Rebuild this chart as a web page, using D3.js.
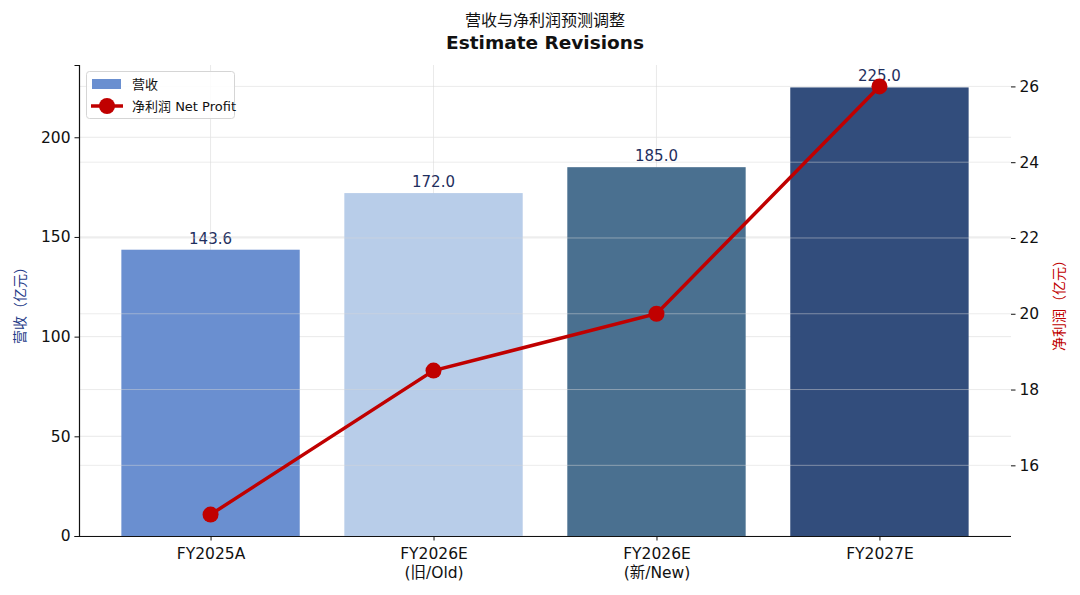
<!DOCTYPE html>
<html><head><meta charset="utf-8">
<script src="https://cdn.jsdelivr.net/npm/d3@7"></script>
<style>body{margin:0;background:#fff}svg{font-family:"DejaVu Sans","Noto Sans CJK SC",sans-serif}</style>
</head><body><svg id="c" width="1080" height="595"></svg>
<script>
const categories = ["FY2025A", "FY2026E\n(旧/Old)", "FY2026E\n(新/New)", "FY2027E"];
const revenue = [143.6, 172.0, 185.0, 225.0];
const netProfit = [14.7, 18.5, 20.0, 26.0];
const barColors = ["#6a8fd0", "#b8cde9", "#4a7090", "#324d7c"];
const leftTicks = [0, 50, 100, 150, 200];
const rightTicks = [16, 18, 20, 22, 24, 26];
const titleLines = ["营收与净利润预测调整", "Estimate Revisions"];
const leftLabel = "营收（亿元）";
const rightLabel = "净利润（亿元）";
const legendLabels = ["营收", "净利润 Net Profit"];

const svg = d3.select("#c");
const L = 79, R = 1011, T = 65, B = 536;
const x = d3.scaleLinear().domain([-0.59, 3.59]).range([L, R]);
const bw = x(0.4) - x(-0.4);
const yL = d3.scaleLinear().domain([0, 236.25]).range([B, T]);
const pMin = d3.min(netProfit), pMax = d3.max(netProfit), pad = (pMax - pMin) * 0.05;
const yR = d3.scaleLinear().domain([pMin - pad, pMax + pad]).range([B, T]);

// grids (left, behind)
const g = svg.append("g");
g.selectAll(".vg").data(categories).join("line")
  .attr("x1", (d, i) => x(i)).attr("x2", (d, i) => x(i)).attr("y1", T).attr("y2", B)
  .attr("stroke", "#e3e3e3").attr("stroke-width", 0.8);
g.selectAll(".hg").data(leftTicks).join("line")
  .attr("x1", L).attr("x2", R).attr("y1", d => yL(d)).attr("y2", d => yL(d))
  .attr("stroke", "#e3e3e3").attr("stroke-width", 0.8);

// bars
svg.selectAll(".bar").data(revenue).join("rect")
  .attr("x", (d, i) => x(i) - bw / 2).attr("width", bw)
  .attr("y", d => yL(d)).attr("height", d => B - yL(d))
  .attr("fill", (d, i) => barColors[i]);

// bar labels
svg.selectAll(".bl").data(revenue).join("text")
  .attr("x", (d, i) => x(i)).attr("y", d => yL(d) - 6)
  .attr("text-anchor", "middle").attr("font-size", 15).attr("fill", "#1f2f5e")
  .text(d => d.toFixed(1));

// right grid (on top, faint)
svg.selectAll(".rg").data(rightTicks).join("line")
  .attr("x1", L).attr("x2", R).attr("y1", d => yR(d)).attr("y2", d => yR(d))
  .attr("stroke", "#d8d8d8").attr("stroke-opacity", 0.6).attr("stroke-width", 0.8);

// axes
const axL = svg.append("g").attr("transform", `translate(${L},0)`)
  .call(d3.axisLeft(yL).tickValues(leftTicks).tickSize(4.5).tickPadding(4));
const axR = svg.append("g").attr("transform", `translate(${R},0)`)
  .call(d3.axisRight(yR).tickValues(rightTicks).tickSize(4.5).tickPadding(4));
axR.select(".domain").remove();
const axB = svg.append("g").attr("transform", `translate(0,${B})`)
  .call(d3.axisBottom(x).tickValues(d3.range(categories.length)).tickSize(4.5).tickFormat(() => ""));
axB.select(".domain").attr("d", `M${L},0.5H${R}`);
[axL, axR, axB].forEach(a => {
  a.selectAll("text").attr("font-size", 15.5).attr("fill", "#111").attr("font-family", "DejaVu Sans");
  a.selectAll("line").attr("stroke", "#111").attr("stroke-width", 1);
  a.select(".domain").attr("stroke", "#111").attr("stroke-width", 1.2);
});
axB.selectAll(".tick").each(function(d) {
  const lines = categories[d].split("\n");
  const t = d3.select(this).append("text").attr("text-anchor", "middle")
    .attr("font-size", 15.5).attr("fill", "#111").attr("font-family", "DejaVu Sans,Noto Sans CJK SC");
  lines.forEach((s, i) => t.append("tspan").attr("x", 0).attr("y", 23 + i * 19).text(s));
});

// line
const line = d3.line().x((d, i) => x(i)).y(d => yR(d));
svg.append("path").datum(netProfit).attr("d", line)
  .attr("fill", "none").attr("stroke", "#c00000").attr("stroke-width", 3.5);
svg.selectAll(".pt").data(netProfit).join("circle")
  .attr("cx", (d, i) => x(i)).attr("cy", d => yR(d)).attr("r", 8).attr("fill", "#c00000");

// titles
svg.append("text").attr("x", 545).attr("y", 26).attr("text-anchor", "middle")
  .attr("font-size", 16).attr("fill", "#111").attr("font-family", "Noto Sans CJK SC").text(titleLines[0]);
svg.append("text").attr("x", 545).attr("y", 49).attr("text-anchor", "middle")
  .attr("font-size", 18.5).attr("font-weight", "bold").attr("fill", "#111").text(titleLines[1]);

svg.append("text").attr("transform", "translate(25,302) rotate(-90)").attr("text-anchor", "middle")
  .attr("font-size", 14).attr("fill", "#1f3c88").attr("font-family", "Noto Sans CJK SC").text(leftLabel);
svg.append("text").attr("transform", "translate(1064,302) rotate(-90)").attr("text-anchor", "middle")
  .attr("font-size", 14).attr("fill", "#c00000").attr("font-family", "Noto Sans CJK SC").text(rightLabel);

// legend
const lg = svg.append("g");
lg.append("rect").attr("x", 86.5).attr("y", 71.5).attr("width", 148).attr("height", 47).attr("rx", 3)
  .attr("fill", "#fff").attr("fill-opacity", 0.85).attr("stroke", "#d5d5d5");
lg.append("rect").attr("x", 92).attr("y", 79).attr("width", 29).attr("height", 10).attr("fill", barColors[0]);
lg.append("text").attr("x", 132).attr("y", 89).attr("font-size", 13).attr("fill", "#111")
  .attr("font-family", "DejaVu Sans,Noto Sans CJK SC").text(legendLabels[0]);
lg.append("line").attr("x1", 91).attr("x2", 123).attr("y1", 106).attr("y2", 106)
  .attr("stroke", "#c00000").attr("stroke-width", 3.5);
lg.append("circle").attr("cx", 107).attr("cy", 106).attr("r", 8).attr("fill", "#c00000");
lg.append("text").attr("x", 132).attr("y", 111).attr("font-size", 13).attr("fill", "#111")
  .attr("font-family", "DejaVu Sans,Noto Sans CJK SC").text(legendLabels[1]);
</script></body></html>
